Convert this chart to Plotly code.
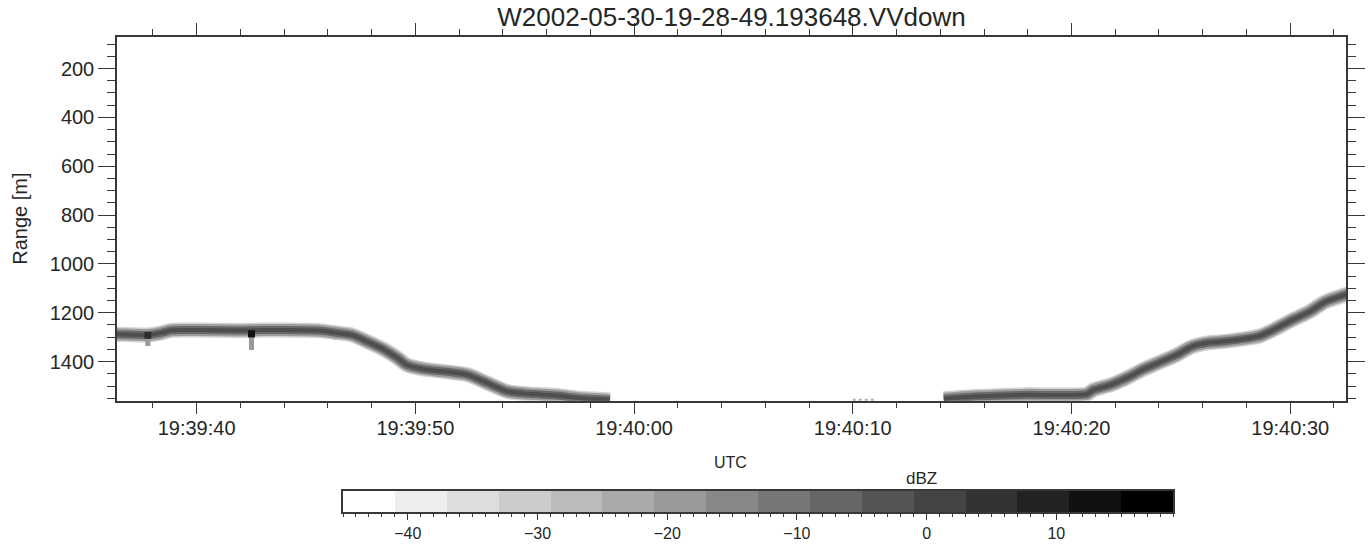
import pandas as pd
import plotly.graph_objects as go

# ---------------- data ----------------
BASE_TIME = "2002-05-30 19:39:00"

# surface / layer echo, left part (seconds after 19:39:00, range in m)
band_left_sec = [36.0, 36.33, 37.77, 38.4, 38.83, 40.1, 41.9, 43.1, 45.5, 46.3, 47.1,
                 47.8, 48.6, 49.2, 49.6, 50.4, 51.3, 52.4, 53.3, 54.2, 55.2, 56.5,
                 57.4, 58.9]
band_left_rng = [1289, 1288, 1291, 1282, 1272, 1271, 1273, 1271, 1273, 1281, 1291,
                 1318, 1352, 1386, 1413, 1431, 1440, 1454, 1488, 1522, 1532, 1539,
                 1549, 1557]

# right part
band_right_sec = [74.16, 75.8, 76.51, 78.0, 80.7, 81.0, 81.8, 82.5, 83.3, 84.0, 84.8,
                  85.5, 86.3, 86.9, 87.8, 88.6, 89.3, 90.1, 90.9, 91.6, 92.5, 92.8]
band_right_rng = [1552, 1542, 1540, 1536, 1533, 1516, 1495, 1468, 1431, 1404, 1373,
                  1339, 1322, 1318, 1308, 1295, 1267, 1229, 1195, 1155, 1127, 1118]

# faint fragment near the bottom edge
frag_sec = [70.0, 71.1]
frag_rng = [1558, 1558]

# strong point echoes
spot_sec = [37.77, 42.51]
spot_core_top = [1279, 1272]
spot_core_bot = [1306, 1301]
spot_tail_bot = [1336, 1352]

# colour bar: 16 levels of 4 dBZ from -45 to 19
cb_edges = [-45 + 4 * i for i in range(17)]
cb_centers = [-43 + 4 * i for i in range(16)]
cb_grays = [255 - 17 * i for i in range(16)]
cb_ticks = [-40, -30, -20, -10, 0, 10]

TITLE = "W2002-05-30-19-28-49.193648.VVdown"


def to_time(secs):
    base = pd.Timestamp(BASE_TIME)
    return [base + pd.Timedelta(seconds=s) for s in secs]


FONT = "Liberation Sans"
TXT = "#262626"
AX = "#383838"

fig = go.Figure()

# band drawn as layered lines (soft edges + dark core)
for secs, rngs in [(band_left_sec, band_left_rng), (band_right_sec, band_right_rng)]:
    for w, c in [(15, "#d2d2d2"), (12, "#9c9c9c"), (8, "#686868"), (4, "#4e4e4e")]:
        fig.add_trace(go.Scatter(
            x=to_time(secs), y=rngs, mode="lines",
            line=dict(color=c, width=w, shape="spline", smoothing=0.6),
            hoverinfo="skip", showlegend=False, xaxis="x", yaxis="y"))

fig.add_trace(go.Scatter(
    x=to_time(frag_sec), y=frag_rng, mode="lines",
    line=dict(color="#b0b0b0", width=3, dash="dot"), hoverinfo="skip", showlegend=False))

for i in range(len(spot_sec)):
    t = to_time([spot_sec[i], spot_sec[i]])
    fig.add_trace(go.Scatter(
        x=t, y=[spot_core_bot[i], spot_tail_bot[i]], mode="lines",
        line=dict(color="#999999", width=5), hoverinfo="skip", showlegend=False))
    fig.add_trace(go.Scatter(
        x=t, y=[spot_core_top[i], spot_core_bot[i]], mode="lines",
        line=dict(color="#111111" if i == 1 else "#2e2e2e", width=7),
        hoverinfo="skip", showlegend=False))

# colour bar as its own heatmap strip
n = len(cb_grays)
cscale = []
for i, g in enumerate(cb_grays):
    col = f"rgb({g},{g},{g})"
    cscale.append([i / n, col])
    cscale.append([(i + 1) / n, col])
fig.add_trace(go.Heatmap(
    x=cb_edges, y=[0, 1], z=[cb_centers], zmin=cb_edges[0], zmax=cb_edges[-1],
    colorscale=cscale, showscale=False, hoverinfo="skip",
    xaxis="x2", yaxis="y2"))

fig.update_layout(
    width=1370, height=546,
    margin=dict(l=117, r=24, t=37, b=10, autoexpand=False),
    paper_bgcolor="white", plot_bgcolor="white",
    font=dict(family=FONT, color=TXT, size=20),
    title=dict(text=TITLE, x=0.5, xref="paper", xanchor="center",
               y=1 - 17 / 546, yref="container", yanchor="middle",
               automargin=False,
               font=dict(family=FONT, size=26, color=TXT)),
    xaxis=dict(
        type="date", domain=[0, 1], anchor="y", automargin=False,
        range=["2002-05-30 19:39:36.36", "2002-05-30 19:40:32.55"],
        tick0="2002-05-30 19:39:40", dtick=10000, tickformat="%H:%M:%S",
        ticks="outside", ticklen=12, tickwidth=1.3, tickcolor=AX,
        ticklabelstandoff=-3,
        minor=dict(ticks="outside", dtick=2000, tick0="2002-05-30 19:39:40",
                   ticklen=6, tickwidth=1.3, tickcolor=AX, showgrid=False),
        showline=True, linecolor=AX, linewidth=1.5, mirror="allticks",
        showgrid=False, zeroline=False,
        tickfont=dict(family=FONT, size=20, color=TXT)),
    yaxis=dict(
        domain=[135.3 / 499, 1], anchor="x", automargin=False,
        range=[1560, 71], tick0=0, dtick=200,
        ticks="outside", ticklen=17, tickwidth=1.3, tickcolor=AX,
        minor=dict(ticks="outside", dtick=50, tick0=0, ticklen=8,
                   tickwidth=1.3, tickcolor=AX, showgrid=False),
        showline=True, linecolor=AX, linewidth=1.5, mirror="allticks",
        showgrid=False, zeroline=False,
        tickfont=dict(family=FONT, size=20, color=TXT)),
    xaxis2=dict(
        domain=[(343 - 117) / 1229, (1173 - 117) / 1229], anchor="y2",
        automargin=False,
        range=[cb_edges[0], cb_edges[-1]], tickvals=cb_ticks,
        ticks="outside", ticklen=6, tickwidth=1, tickcolor=AX,
        minor=dict(ticks="outside", dtick=1, tick0=-45, ticklen=3,
                   tickwidth=1, tickcolor=AX, showgrid=False),
        showline=True, linecolor=AX, linewidth=1.5, mirror=True,
        showgrid=False, zeroline=False,
        tickfont=dict(family=FONT, size=16, color=TXT)),
    yaxis2=dict(
        domain=[(536 - 512) / 499, (536 - 491) / 499], anchor="x2",
        automargin=False,
        range=[0, 1], showticklabels=False, ticks="",
        showline=True, linecolor=AX, linewidth=1.5, mirror=True,
        showgrid=False, zeroline=False),
    annotations=[
        dict(text="Range [m]", x=(20 - 117) / 1229, y=(536 - 218.7) / 499,
             xref="paper", yref="paper", textangle=-90, showarrow=False,
             xanchor="center", yanchor="middle",
             font=dict(family=FONT, size=20, color=TXT)),
        dict(text="UTC", x=(730 - 117) / 1229, y=(536 - 462) / 499,
             xref="paper", yref="paper", showarrow=False,
             xanchor="center", yanchor="middle",
             font=dict(family=FONT, size=16, color=TXT)),
        dict(text="dBZ", x=(921 - 117) / 1229, y=(536 - 478) / 499,
             xref="paper", yref="paper", showarrow=False,
             xanchor="center", yanchor="middle",
             font=dict(family=FONT, size=17, color=TXT)),
    ],
)

fig.write_html(
    "out.html",
    config={"displayModeBar": False},
    post_script="document.body.style.margin='0';document.body.style.overflow='hidden';",
)
